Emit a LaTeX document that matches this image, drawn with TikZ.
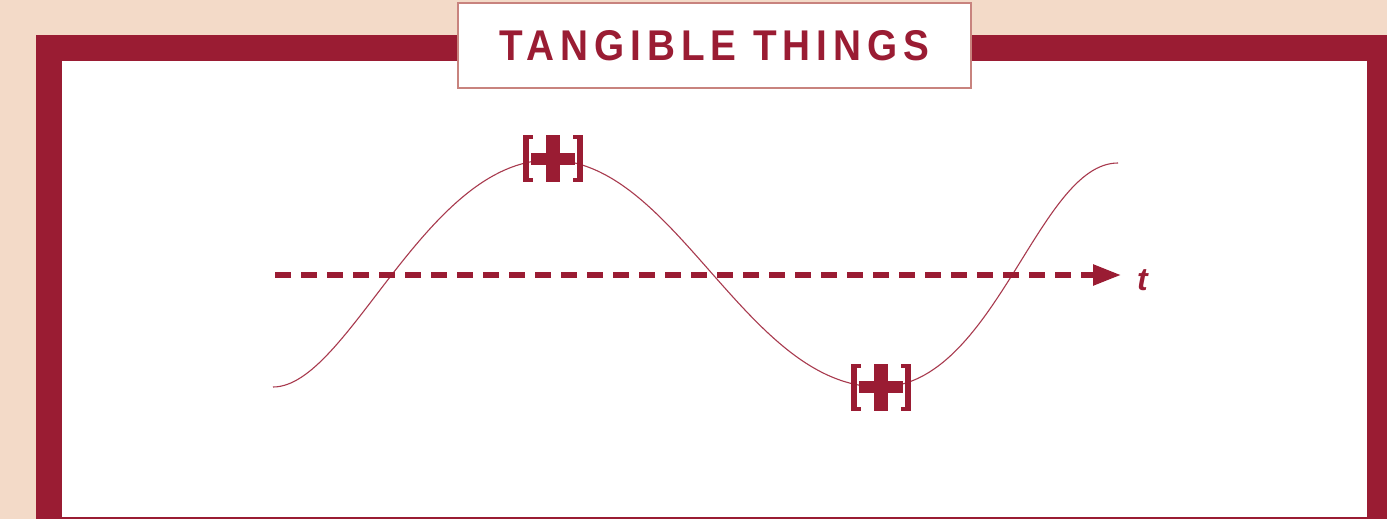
\documentclass[tikz,border=0pt]{standalone}
\usepackage{fontspec}
\setmainfont{Liberation Sans}
\newfontfamily\titlefont[FakeStretch=0.9,LetterSpace=14]{Liberation Sans}
\usetikzlibrary{arrows.meta}
\definecolor{peach}{HTML}{F3DAC8}
\definecolor{wine}{HTML}{9A1C33}
\definecolor{boxline}{HTML}{C8837E}
\definecolor{wavecol}{HTML}{A83A4E}
\tikzset{
  titlebox/.style={draw=boxline, line width=2pt, fill=white, minimum width=513pt, minimum height=85pt, inner sep=0pt,
    text=wine, font=\titlefont\bfseries\fontsize{43}{43}\selectfont},
  wavestyle/.style={draw=wavecol, line width=1.1pt},
  axisline/.style={draw=wine, line width=5.5pt, dash pattern=on 16pt off 10pt, -{Triangle[length=28pt,width=20pt]}},
  tlabel/.style={text=wine, font=\bfseries\itshape\fontsize{32}{32}\selectfont, inner sep=0pt, anchor=base west},
  plusmark/.pic={
    \fill[wine] (-22,-6) rectangle (22,6);
    \fill[wine] (-7,-23.5) rectangle (7,23.5);
    \fill[wine] (-30,-23.5) rectangle (-24,23.5);
    \fill[wine] (-30,-23.5) rectangle (-20,-19.5);
    \fill[wine] (-30,23.5) rectangle (-20,19.5);
    \fill[wine] (30,-23.5) rectangle (24,23.5);
    \fill[wine] (30,-23.5) rectangle (20,-19.5);
    \fill[wine] (30,23.5) rectangle (20,19.5);
  }
}
\begin{document}
\begin{tikzpicture}[x=1pt,y=-1pt]
\fill[peach] (0,0) rectangle (1387,519);
\useasboundingbox (0,0) rectangle (1387,519);
\fill[wine] (36,35) rectangle (1387,519);
\fill[white] (62,61) rectangle (1367,517);
\node[titlebox] (title) at (714.5,45.5) {TANGIBLE THINGS};
% wave
\coordinate (w0) at (273,387);
\coordinate (w1) at (550,160);
\coordinate (w2) at (880,387);
\coordinate (w3) at (1118,163);
\draw[wavestyle] (w0) .. controls +(75,0) and +(-125,0) .. (w1)
  .. controls +(126,0) and +(-134,0) .. (w2)
  .. controls +(115,0) and +(-80,0) .. (w3);
% axis
\coordinate (a0) at (275,275);
\coordinate (a1) at (1121,275);
\draw[axisline] (a0) -- (a1);
\node[tlabel] (tl) at (1137,290.5) {t};
% markers
\pic (m1) at (553,158.5) {plusmark};
\pic (m2) at (881,387) {plusmark};
\end{tikzpicture}
\end{document}
